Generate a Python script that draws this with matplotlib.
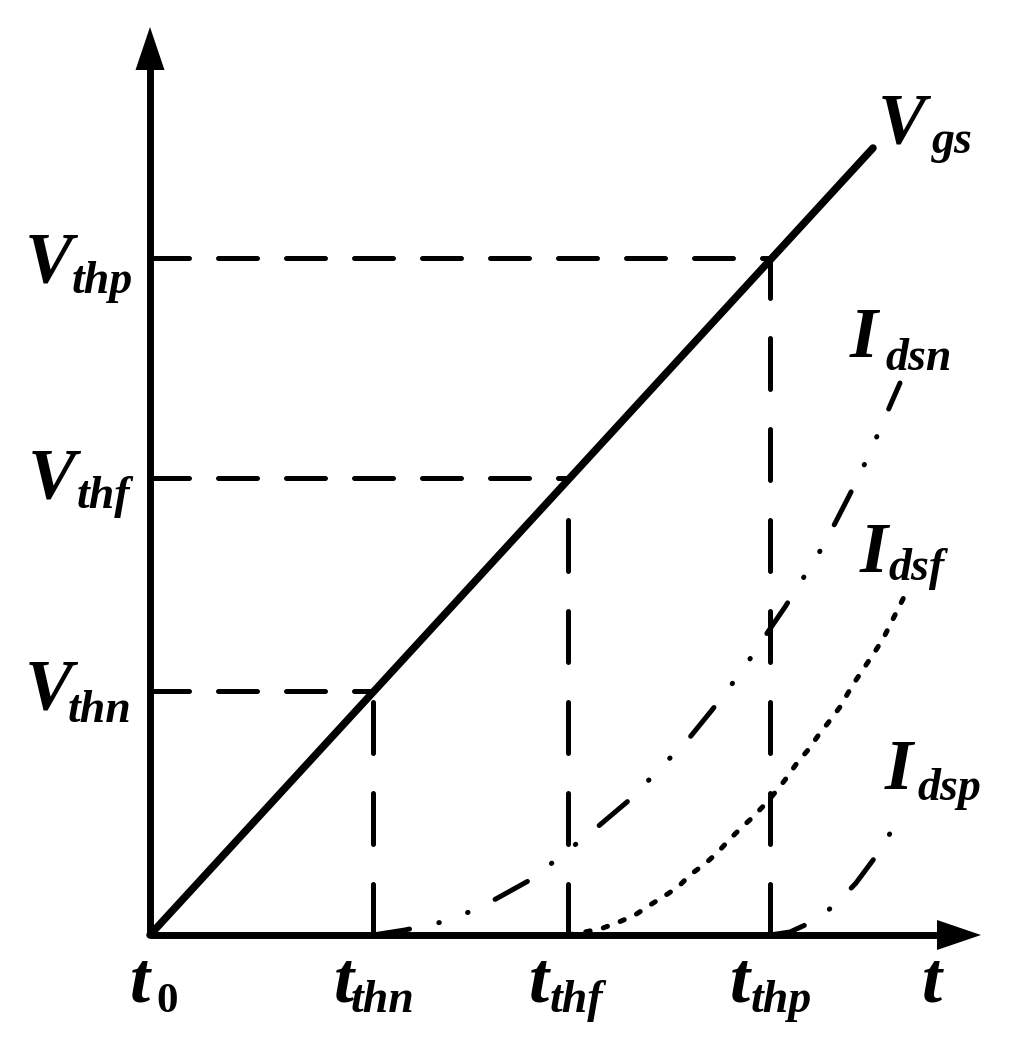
import matplotlib
matplotlib.use("Agg")
import matplotlib.pyplot as plt

# ---- data (t in arbitrary units, same units on both axes) ----
t_th = [2.23, 4.18, 6.20]          # t_thn, t_thf, t_thp
v_th = [2.44, 4.57, 6.77]          # V_thn, V_thf, V_thp
vgs_t = [0.0, 7.23]
vgs_v = [0.0, 7.87]

idsn_t = [2.23, 2.55, 2.92, 3.19, 3.44, 3.80, 4.02, 4.45, 4.77, 4.97, 5.16, 5.36, 5.62,
          5.79, 5.96, 6.11, 6.35, 6.50, 6.65, 6.80, 6.98, 7.10, 7.22, 7.33, 7.50]
idsn_i = [0.00, 0.05, 0.13, 0.23, 0.35, 0.55, 0.72, 1.06, 1.33, 1.53, 1.73, 1.93, 2.25,
          2.47, 2.70, 2.93, 3.28, 3.52, 3.75, 4.02, 4.37, 4.61, 4.87, 5.13, 5.52]

idsf_t = [4.18, 4.35, 4.53, 4.69, 4.85, 5.00, 5.16, 5.28, 5.40, 5.56, 5.68, 5.79, 5.91,
          6.03, 6.19, 6.35, 6.47, 6.58, 6.70, 6.78, 6.90, 6.98, 7.06, 7.16, 7.26, 7.34,
          7.41, 7.49, 7.55]
idsf_i = [0.00, 0.03, 0.07, 0.13, 0.20, 0.30, 0.40, 0.48, 0.60, 0.72, 0.83, 0.95, 1.07,
          1.18, 1.35, 1.55, 1.72, 1.85, 2.02, 2.12, 2.28, 2.42, 2.55, 2.70, 2.85, 2.98,
          3.12, 3.28, 3.40]

idsp_t = [6.20, 6.40, 6.66, 6.87, 7.06, 7.32, 7.44]
idsp_i = [0.00, 0.03, 0.15, 0.32, 0.52, 0.87, 1.09]

t_end = 8.31     # x axis arrow tip
v_end = 9.08     # y axis arrow tip

# ---- figure ----
fig = plt.figure(figsize=(10.30, 10.56), dpi=100)
ax = fig.add_axes([0, 0, 1, 1])
ax.set_xlim(-1.5, 8.8)
ax.set_ylim(-1.21, 9.35)
ax.axis('off')

lw_d = 3.6
hdash = (0, (7.8, 5.8))
vdash = (0, (10.2, 8.0))

# axes + arrows
ax.plot([0, t_end - 0.4], [0, 0], color='k', lw=5, solid_capstyle='butt')
ax.plot([0, 0], [0, v_end - 0.4], color='k', lw=5, solid_capstyle='butt')
ax.fill([t_end - 0.44, t_end, t_end - 0.44], [0.15, 0, -0.15], color='k', lw=0)
ax.fill([-0.145, 0, 0.145], [v_end - 0.43, v_end, v_end - 0.43], color='k', lw=0)

# threshold guide lines
for t, v in zip(t_th, v_th):
    ax.plot([0, t], [v, v], color='k', lw=lw_d, linestyle=hdash, dash_capstyle='round')
    ax.plot([t, t], [0, v], color='k', lw=lw_d, linestyle=vdash, dash_capstyle='round')

# Vgs
ax.plot(vgs_t, vgs_v, color='k', lw=5.4, solid_capstyle='round')

# drain currents
ax.plot(idsn_t, idsn_i, color='k', lw=lw_d, linestyle=(0, (7.4, 6, 0.1, 6, 0.1, 6)),
        dash_capstyle='round')
ax.plot(idsf_t, idsf_i, color='k', lw=lw_d, linestyle=(0, (0.9, 2.7)),
        dash_capstyle='round')
ax.plot(idsp_t, idsp_i, color='k', lw=lw_d, linestyle=(0, (7.2, 6, 0.1, 6)),
        dash_capstyle='round')

# ---- labels ----
big = dict(family='Liberation Serif', weight='bold', style='italic', fontsize=52,
           ha='left', va='baseline')
small = dict(family='Liberation Serif', weight='bold', style='italic', fontsize=33,
             ha='left', va='baseline')

labels = [
    ('V', 'thp', -1.25, 6.53, -0.78, 6.42),
    ('V', 'thf', -1.22, 4.37, -0.73, 4.27),
    ('V', 'thn', -1.25, 2.27, -0.82, 2.13),
    ('V', 'gs', 7.28, 7.92, 7.82, 7.82),
    ('I', 'dsn', 7.00, 5.78, 7.35, 5.65),
    ('I', 'dsf', 7.10, 3.63, 7.38, 3.55),
    ('I', 'dsp', 7.35, 1.46, 7.67, 1.35),
    ('t', 'thn', 1.84, -0.67, 2.01, -0.77),
    ('t', 'thf', 3.79, -0.67, 4.00, -0.77),
    ('t', 'thp', 5.80, -0.67, 6.01, -0.77),
]
for m, s, x1, y1, x2, y2 in labels:
    ax.text(x1, y1, m, **big)
    ax.text(x2, y2, s, **small)

ax.text(-0.20, -0.67, 't', **big)
ax.text(0.06, -0.77, '0', family='Liberation Serif', weight='bold', fontsize=31,
        ha='left', va='baseline')
ax.text(7.72, -0.67, 't', **big)

fig.savefig('out.png', dpi=100, facecolor='white')
